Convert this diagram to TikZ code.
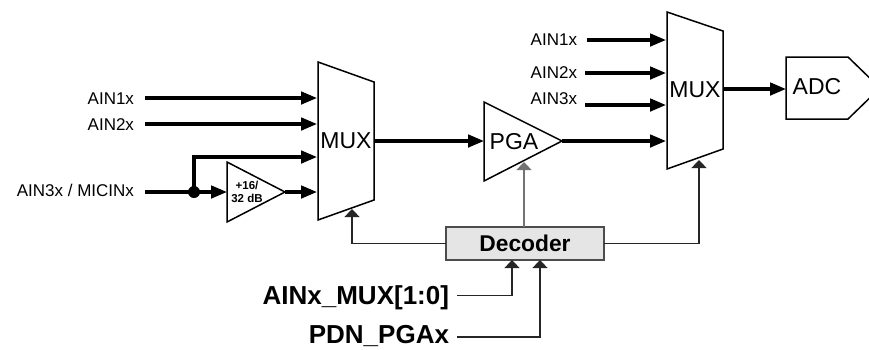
\documentclass[tikz,border=0pt]{standalone}
\usepackage{fontspec}
\setmainfont{Liberation Sans}
\usetikzlibrary{arrows.meta}
\tikzset{
  x=1pt,y=-1pt,
  lab/.style={inner sep=0pt,outer sep=0pt,text height=12.2pt,text depth=0pt,font=\fontsize{17}{18}\selectfont},
  big/.style={inner sep=0pt,outer sep=0pt,text height=16.4pt,text depth=0pt,font=\fontsize{23}{25}\selectfont},
  ctl/.style={inner sep=0pt,outer sep=0pt,text height=18.6pt,text depth=0pt,font=\fontsize{26}{28}\selectfont\bfseries},
  shp/.style={draw=black,line width=1.5pt,line join=miter},
  bus/.style={draw=black,line width=3.2pt,-{Triangle[length=16pt,width=12.5pt]},shorten >=0pt},
  wire/.style={draw=black!85,line width=1.1pt},
  sig/.style={wire,-{Triangle[length=8pt,width=15pt]}},
}
\begin{document}
\begin{tikzpicture}
\useasboundingbox (0,0) rectangle (869,349);
% block outlines
\draw[shp] (318,62) -- (374,82) -- (374,200) -- (318,220) -- cycle;
\draw[shp] (667,12) -- (723,31) -- (723,149) -- (667,169) -- cycle;
\draw[shp] (484,102) -- (562,141) -- (484,181) -- cycle;
\draw[shp] (227,162) -- (285,192) -- (227,222) -- cycle;
\draw[shp] (786,57) -- (848,57) -- (880,88) -- (848,119) -- (786,119) -- cycle;
% named pins
\coordinate (m1a) at (317,98);
\coordinate (m1b) at (317,124);
\coordinate (m1c) at (317,157);
\coordinate (m1d) at (317,192);
\coordinate (m1o) at (374,141);
\coordinate (m1s) at (352,209);
\coordinate (m2a) at (666,40);
\coordinate (m2b) at (666,73);
\coordinate (m2c) at (666,105);
\coordinate (m2d) at (666,141);
\coordinate (m2o) at (723,89);
\coordinate (m2s) at (699,160);
\coordinate (pgai) at (484,141);
\coordinate (pgao) at (562,141);
\coordinate (pgas) at (524,162);
\coordinate (ampi) at (227,192);
\coordinate (ampo) at (285,192);
\coordinate (adci) at (786,89);
% texts
\node[big,anchor=center] (mux1) at (346,140.5) {MUX};
\node[big,anchor=center] (mux2) at (695,89) {MUX};
\node[big,anchor=center] (pga) at (514,141) {PGA};
\node[big,anchor=center] (adc) at (817,86) {ADC};
\node[inner sep=0pt,align=center,font=\fontsize{11.5}{13}\selectfont\bfseries] (amp) at (247,191.5) {+16/\\32 dB};
\node[lab,anchor=east] (a1) at (134,98) {AIN1x};
\node[lab,anchor=east] (a2) at (134,124) {AIN2x};
\node[lab,anchor=east] (a3) at (134,190) {AIN3x / MICINx};
\node[lab,anchor=east] (b1) at (577,39) {AIN1x};
\node[lab,anchor=east] (b2) at (577,72) {AIN2x};
\node[lab,anchor=east] (b3) at (577,98) {AIN3x};
\node[draw=black!70,line width=1.1pt,fill=black!10,minimum width=158pt,minimum height=33pt,inner sep=0pt,outer sep=0pt,font=\fontsize{22.8}{25}\selectfont\bfseries] (dec) at (525,243.5) {Decoder};
\node[ctl,anchor=east] (c1) at (449,295.5) {AINx\_MUX[1:0]};
\node[ctl,anchor=east] (c2) at (449,334.5) {PDN\_PGAx};
% thick connectors
\draw[bus] ([xshift=11pt]a1.east) -- (m1a);
\draw[bus] ([xshift=11pt]a2.east) -- (m1b);
\coordinate (in3) at (145,192);
\coordinate (jn) at (194,192);
\draw[bus] (in3) -- (ampi);
\fill (jn) circle (6pt);
\draw[bus] (jn) -- (jn |- m1c) -- (m1c);
\draw[bus] (ampo) -- (m1d);
\draw[bus] (m1o) -- (pgai);
\draw[bus] (pgao) -- (m2d);
\draw[bus] (587,40) -- (m2a);
\draw[bus] (585,73) -- (m2b);
\draw[bus] (585,105) -- (m2c);
\draw[bus] (m2o) -- (adci);
% control connectors
\draw[sig] (dec.west) -- (m1s |- dec.west) -- (m1s);
\draw[sig,draw=black!55] (dec.north -| pgas) -- (pgas);
\draw[sig] (dec.east) -- (m2s |- dec.east) -- (m2s);
\coordinate (dp1) at (512,260);
\coordinate (dp2) at (540,260);
\draw[sig] ([xshift=8pt]c1.east) -| (dp1);
\draw[sig] ([xshift=8pt,yshift=-2.5pt]c2.east) -| (dp2);
\end{tikzpicture}
\end{document}
